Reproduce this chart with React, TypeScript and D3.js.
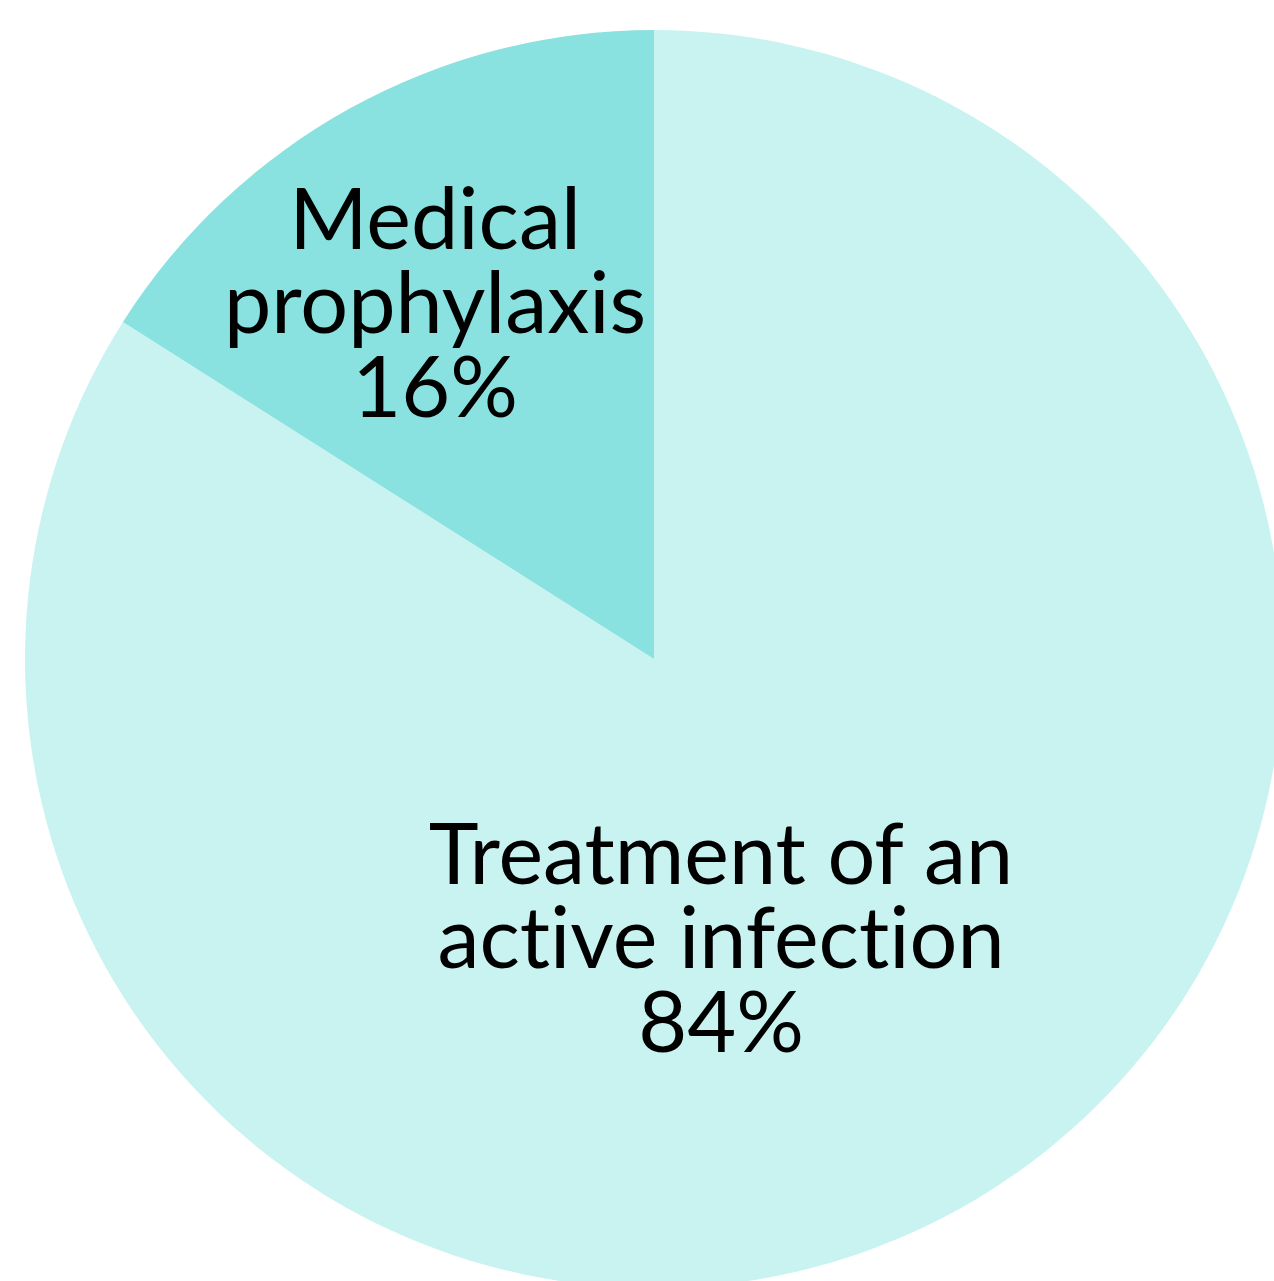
import React from "react";
import * as d3 from "d3";

const categories = ["Treatment of an active infection", "Medical prophylaxis"];
const values = [84, 16];
const labelLines = [
  ["Treatment of an", "active infection", "84%"],
  ["Medical", "prophylaxis", "16%"],
];
const colors = ["#C8F3F1", "#89E2DF"];

const W = 1274;
const H = 1281;
const cx = 654;
const cy = 659;
const R = 629;
// label anchor (middle line baseline) relative to center
const labelPos = [
  { dx: 67, dy: 309 },
  { dx: -219, dy: -326 },
];
const fontSize = 84.5;
const lineH = 84;

export default function App() {
  const pie = d3.pie<number>().sort(null).value((d) => d);
  const arcs = pie(values);
  const arc = d3.arc<d3.PieArcDatum<number>>().innerRadius(0).outerRadius(R);
  return (
    <svg
      width={W}
      height={H}
      style={{ position: "absolute", left: 0, top: 0, display: "block" }}
    >
      <g transform={`translate(${cx},${cy})`}>
        {arcs.map((a, i) => (
          <path key={categories[i]} d={arc(a) || ""} fill={colors[i]} />
        ))}
        {arcs.map((a, i) => (
          <text
            key={"t" + i}
            x={labelPos[i].dx}
            y={labelPos[i].dy}
            textAnchor="middle"
            fontFamily="Lato"
            fontSize={fontSize}
            fill="#000"
            style={{ fontVariantLigatures: "none", fontFeatureSettings: '"liga" 0, "clig" 0' }}
          >
            {labelLines[i].map((l, j) => (
              <tspan key={j} x={labelPos[i].dx} y={labelPos[i].dy + (j - 1) * lineH}>
                {l}
              </tspan>
            ))}
          </text>
        ))}
      </g>
    </svg>
  );
}
